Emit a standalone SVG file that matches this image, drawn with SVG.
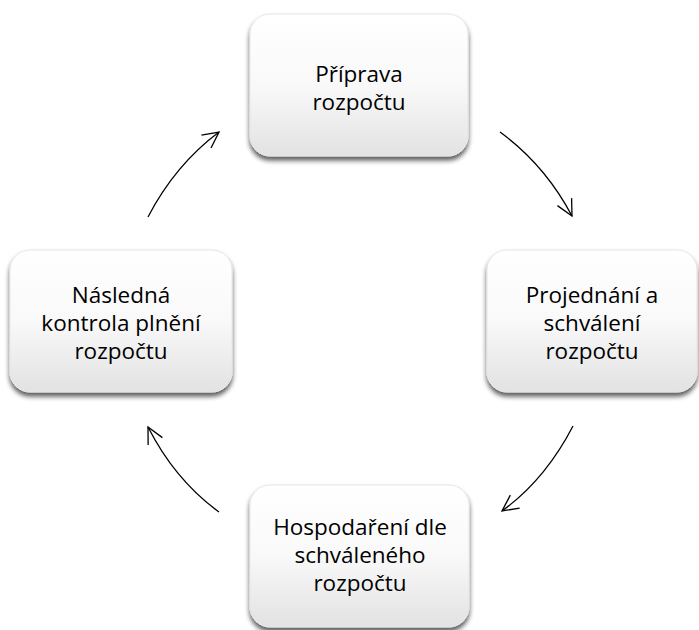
<svg xmlns="http://www.w3.org/2000/svg" width="699" height="630" viewBox="0 0 699 630">
<style>
.box{fill:url(#g);stroke:#e6e6e6;stroke-width:1;filter:url(#sh)}
.t{font-family:"Open Sans","Liberation Sans",sans-serif;font-size:22.5px;fill:#000;text-anchor:middle}
.c{fill:none;stroke:#000;stroke-width:1.3;marker-end:url(#a)}
</style>
<defs>
<linearGradient id="g" x1="0" y1="0" x2="0" y2="1">
<stop offset="0" stop-color="#ffffff"/>
<stop offset="0.5" stop-color="#f9f9f9"/>
<stop offset="1" stop-color="#e2e2e2"/>
</linearGradient>
<filter id="sh" x="-10%" y="-10%" width="120%" height="130%">
<feGaussianBlur in="SourceAlpha" stdDeviation="2.5"/>
<feOffset dx="0" dy="4" result="b"/>
<feComponentTransfer><feFuncA type="linear" slope="0.65"/></feComponentTransfer>
<feMerge><feMergeNode/><feMergeNode in="SourceGraphic"/></feMerge>
</filter>
<marker id="a" viewBox="0 0 20 20" refX="18" refY="10" markerWidth="20" markerHeight="20" markerUnits="userSpaceOnUse" orient="auto">
<path d="M2,2 L18,10 L2,18" fill="none" stroke="#000" stroke-width="1.3"/>
</marker>
</defs>
<g id="n1">
<rect class="box" x="250" y="14" width="218" height="142" rx="20"/>
<text class="t" x="359" y="82">Příprava</text>
<text class="t" x="359" y="110">rozpočtu</text>
</g>
<g id="n2">
<rect class="box" x="487" y="250" width="210" height="142" rx="20"/>
<text class="t" x="592" y="303">Projednání a</text>
<text class="t" x="592" y="331">schválení</text>
<text class="t" x="592" y="359">rozpočtu</text>
</g>
<g id="n3">
<rect class="box" x="250" y="485" width="219" height="142" rx="20"/>
<text class="t" x="360" y="535">Hospodaření dle</text>
<text class="t" x="360" y="563">schváleného</text>
<text class="t" x="360" y="591">rozpočtu</text>
</g>
<g id="n4">
<rect class="box" x="10" y="250" width="222" height="142" rx="20"/>
<text class="t" x="121" y="303">Následná</text>
<text class="t" x="121" y="331">kontrola plnění</text>
<text class="t" x="121" y="359">rozpočtu</text>
</g>
<g id="connectors">
<path class="c" d="M500,132 Q545,165 572,216"/>
<path class="c" d="M573,426 Q545,480 502,511"/>
<path class="c" d="M219,512 Q175,480 148,427"/>
<path class="c" d="M148,217 Q175,165 219,132"/>
</g>
</svg>
